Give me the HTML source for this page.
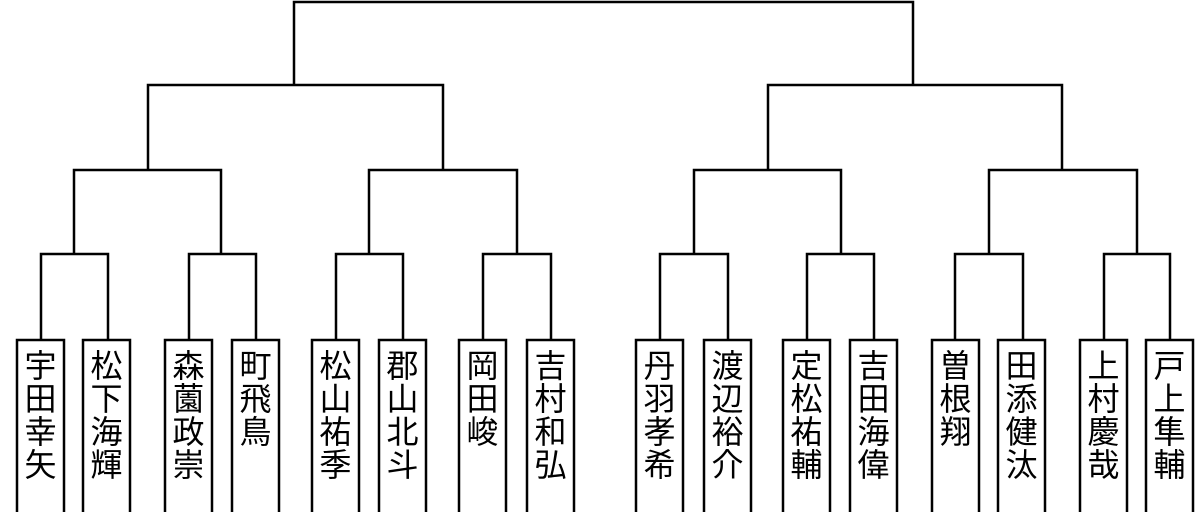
<!DOCTYPE html>
<html><head><meta charset="utf-8"><style>
html,body{margin:0;padding:0;background:#fff;}
svg{display:block;}
text{font-family:"Liberation Sans","Noto Sans CJK JP",sans-serif;font-size:32px;fill:#000;}
</style></head><body>
<svg width="1200" height="512" viewBox="0 0 1200 512" xmlns="http://www.w3.org/2000/svg">
<g fill="none" stroke="#000" stroke-width="2.5">
<!-- top -->
<polyline points="294,85 294,2 913,2 913,85"/>
<!-- level3 -->
<polyline points="148,170 148,85 443,85 443,170"/>
<polyline points="768,170 768,85 1062,85 1062,170"/>
<!-- level2 -->
<polyline points="74,254 74,170 221,170 221,254"/>
<polyline points="369,254 369,170 517,170 517,254"/>
<polyline points="694,254 694,170 841,170 841,254"/>
<polyline points="989,254 989,170 1137,170 1137,254"/>
<!-- leaves -->
<polyline points="41,340 41,254 108,254 108,340"/>
<polyline points="189,340 189,254 256,254 256,340"/>
<polyline points="336,340 336,254 403,254 403,340"/>
<polyline points="483,340 483,254 551,254 551,340"/>
<polyline points="660,340 660,254 728,254 728,340"/>
<polyline points="807,340 807,254 874,254 874,340"/>
<polyline points="955,340 955,254 1023,254 1023,340"/>
<polyline points="1104,340 1104,254 1170,254 1170,340"/>
<!-- boxes -->
<rect x="17" y="340" width="47" height="180"/>
<rect x="83" y="340" width="47" height="180"/>
<rect x="165" y="340" width="47" height="180"/>
<rect x="232" y="340" width="47" height="180"/>
<rect x="312" y="340" width="47" height="180"/>
<rect x="379" y="340" width="47" height="180"/>
<rect x="459" y="340" width="47" height="180"/>
<rect x="527" y="340" width="47" height="180"/>
<rect x="636" y="340" width="47" height="180"/>
<rect x="704" y="340" width="47" height="180"/>
<rect x="783" y="340" width="47" height="180"/>
<rect x="850" y="340" width="47" height="180"/>
<rect x="932" y="340" width="47" height="180"/>
<rect x="998" y="340" width="47" height="180"/>
<rect x="1080" y="340" width="47" height="180"/>
<rect x="1146" y="340" width="47" height="180"/>
</g>
<g text-anchor="middle">
<text x="40.5" y="377">宇</text><text x="40.5" y="410">田</text><text x="40.5" y="443">幸</text><text x="40.5" y="476">矢</text>
<text x="106.5" y="377">松</text><text x="106.5" y="410">下</text><text x="106.5" y="443">海</text><text x="106.5" y="476">輝</text>
<text x="188.5" y="377">森</text><text x="188.5" y="410">薗</text><text x="188.5" y="443">政</text><text x="188.5" y="476">崇</text>
<text x="255.5" y="377">町</text><text x="255.5" y="410">飛</text><text x="255.5" y="443">鳥</text>
<text x="335.5" y="377">松</text><text x="335.5" y="410">山</text><text x="335.5" y="443">祐</text><text x="335.5" y="476">季</text>
<text x="402.5" y="377">郡</text><text x="402.5" y="410">山</text><text x="402.5" y="443">北</text><text x="402.5" y="476">斗</text>
<text x="482.5" y="377">岡</text><text x="482.5" y="410">田</text><text x="482.5" y="443">峻</text>
<text x="550.5" y="377">吉</text><text x="550.5" y="410">村</text><text x="550.5" y="443">和</text><text x="550.5" y="476">弘</text>
<text x="659.5" y="377">丹</text><text x="659.5" y="410">羽</text><text x="659.5" y="443">孝</text><text x="659.5" y="476">希</text>
<text x="727.5" y="377">渡</text><text x="727.5" y="410">辺</text><text x="727.5" y="443">裕</text><text x="727.5" y="476">介</text>
<text x="806.5" y="377">定</text><text x="806.5" y="410">松</text><text x="806.5" y="443">祐</text><text x="806.5" y="476">輔</text>
<text x="873.5" y="377">吉</text><text x="873.5" y="410">田</text><text x="873.5" y="443">海</text><text x="873.5" y="476">偉</text>
<text x="955.5" y="377">曽</text><text x="955.5" y="410">根</text><text x="955.5" y="443">翔</text>
<text x="1021.5" y="377">田</text><text x="1021.5" y="410">添</text><text x="1021.5" y="443">健</text><text x="1021.5" y="476">汰</text>
<text x="1103.5" y="377">上</text><text x="1103.5" y="410">村</text><text x="1103.5" y="443">慶</text><text x="1103.5" y="476">哉</text>
<text x="1169.5" y="377">戸</text><text x="1169.5" y="410">上</text><text x="1169.5" y="443">隼</text><text x="1169.5" y="476">輔</text>
</g>
</svg>
</body></html>
